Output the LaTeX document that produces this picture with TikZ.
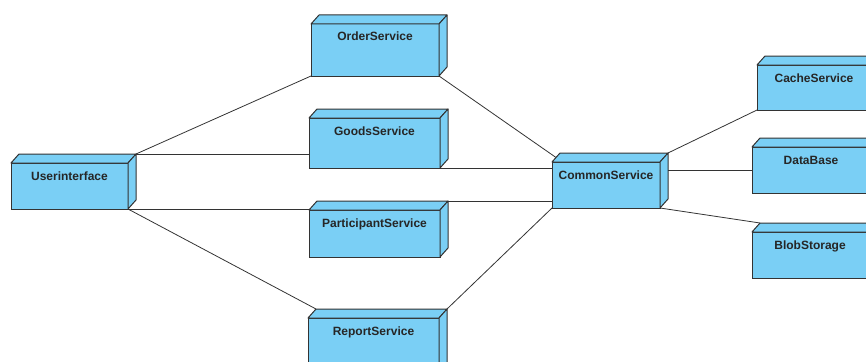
\documentclass[tikz,border=0pt]{standalone}
\usepackage{fontspec}
\setmainfont{Liberation Sans}
\usetikzlibrary{calc}
\definecolor{nodeblue}{RGB}{122,207,245}
\definecolor{edgegray}{RGB}{51,51,51}

\begin{document}
\begin{tikzpicture}[
  x=1pt, y=-1pt,
  devbox/.style={rectangle, draw=edgegray, line width=1pt, fill=nodeblue,
                 anchor=north west, inner xsep=0pt, inner ysep=0pt, outer sep=0pt,
                 text height=17pt, font=\fontsize{12}{14}\selectfont\bfseries, text=black!85},
  dev/.style 2 args={devbox, minimum width=#1pt, text depth=#2pt},
  face/.style={draw=edgegray, line width=1pt, fill=nodeblue, line join=round},
  link/.style={draw=edgegray, line width=0.8pt}
]
  \useasboundingbox (0,0) rectangle (866,361);
  \clip (0,0) rectangle (866,361);

  % Front faces
  \node[dev={117}{29}] (ui)          at (11,163)  {Userinterface};
  \node[dev={128}{35}] (order)       at (311,24)  {OrderService};
  \node[dev={131}{33}] (goods)       at (309,118) {GoodsService};
  \node[dev={131}{30}] (participant) at (309,210) {ParticipantService};
  \node[dev={131}{43}] (report)      at (308,318) {ReportService};
  \node[dev={108}{29}] (common)      at (552,162) {CommonService};
  \node[dev={114}{28}] (cache)       at (757,65)  {CacheService};
  \node[dev={118}{29}] (db)          at (752,147) {DataBase};
  \node[dev={116}{29}] (blob)        at (752,232) {BlobStorage};

  % Top and side faces
  \foreach \n in {ui,order,goods,participant,report,common,cache,db,blob} {
    \coordinate (\n-bnw) at ([shift={(8,-9)}]\n.north west);
    \coordinate (\n-bne) at ([shift={(8,-9)}]\n.north east);
    \coordinate (\n-bse) at ([shift={(8,-9)}]\n.south east);
    \draw[face] (\n.north west) -- (\n-bnw) -- (\n-bne) -- (\n.north east) -- cycle;
    \draw[face] (\n.north east) -- (\n-bne) -- (\n-bse) -- (\n.south east) -- cycle;
  }

  % Links
  \draw[link] (ui-bne) -- (order.south west);
  \draw[link] (ui-bne) -- (ui-bne -| goods.west);
  \draw[link] (ui.south east) -- (ui.south east -| participant.west);
  \draw[link] (ui.south east) -- (report-bnw);
  \draw[link] (order.south east) -- ($(common.north west)!0.5!(common-bnw)$);
  \draw[link] (goods.south east) -- (goods.south east -| common.west);
  \draw[link] (participant-bne) -- (participant-bne -| common.west);
  \draw[link] (report-bne) -- (common.south west);
  \draw[link] (common-bne) -- (cache.south west);
  \draw[link] (db.west -| common-bne) -- (db.west);
  \draw[link] (common.south east) -- (blob-bnw);
\end{tikzpicture}
\end{document}
